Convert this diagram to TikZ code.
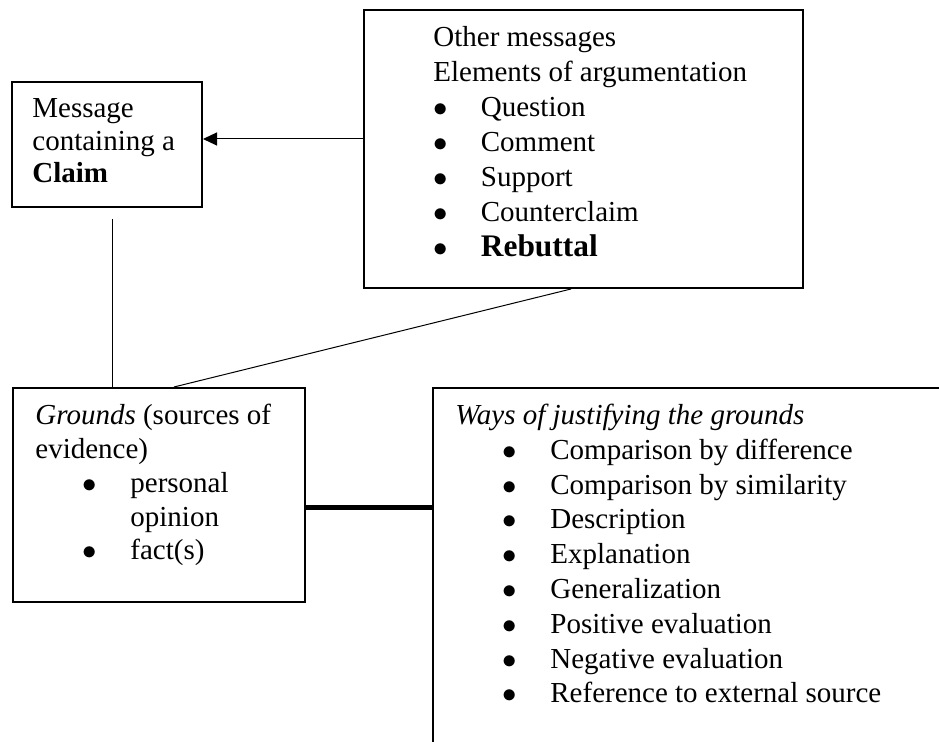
\documentclass[tikz,border=0pt]{standalone}
\usepackage{fontspec}
\setmainfont{Liberation Serif}
\usetikzlibrary{positioning,arrows.meta,calc}

\newcommand{\bul}{\makebox[23.75pt][l]{$\bullet$}}
\newcommand{\ind}{\hspace*{23.75pt}}

\begin{document}
\begin{tikzpicture}[x=0.5pt, y=-0.5pt,
  box/.style={draw, line width=1pt, anchor=north west, inner sep=0pt},
  txt/.style={anchor=base west, align=left, inner sep=0pt,
              font=\fontsize{14.5}{#1}\selectfont},
  txt/.default=17.25pt,
  link/.style={line width=0.5pt},
  heavy/.style={line width=2.5pt},
  arr/.style={-{Triangle[length=7pt, width=6.5pt]}, line width=0.5pt}]
\useasboundingbox (0,0) rectangle (939,742);
\clip (0,0) rectangle (939,742);
% boxes
\node[box, minimum width=95pt, minimum height=62.5pt] (claim) at (11,81) {};
\node[box, minimum width=219.5pt, minimum height=139pt] (other) at (363,9) {};
\node[box, minimum width=146pt, minimum height=107pt] (grounds) at (12,387) {};
\node[box, minimum width=300pt, minimum height=200pt] (ways) at (432,387) {};
% texts (anchored at the baseline of their last line)
\node[txt=16.25pt] (claimtxt) at (32,183) {Message\\containing a\\\textbf{Claim}};
\node[txt=17.5pt] (othertxt) at (433,257) {Other messages\\
  Elements of argumentation\\
  \bul Question\\
  \bul Comment\\
  \bul Support\\
  \bul Counterclaim\\
  {\fontsize{15.7}{19.5pt}\selectfont\bfseries\bul Rebuttal}};
\node[txt=16.9pt] (groundstxt) at (35,560) {\textit{Grounds} (sources of\\
  evidence)\\
  \ind\bul personal\\
  \ind\ind opinion\\
  \ind\bul fact(s)};
\node[txt=17.4pt] (waystxt) at (455,703) {\textit{Ways of justifying the grounds}\\
  \ind\bul Comparison by difference\\
  \ind\bul Comparison by similarity\\
  \ind\bul Description\\
  \ind\bul Explanation\\
  \ind\bul Generalization\\
  \ind\bul Positive evaluation\\
  \ind\bul Negative evaluation\\
  \ind\bul Reference to external source};
% connectors
\coordinate (arrend) at ([yshift=2.75pt]claim.east);
\draw[arr] (arrend -| other.west) -- (arrend);
\coordinate (vtop) at ([shift={(5,11)}]claim.south);
\draw[link] (vtop) -- (vtop |- grounds.north);
\draw[link] ([xshift=-6.25pt]other.south) -- ([xshift=7.5pt]grounds.north);
\coordinate (gw) at ([yshift=-6.5pt]grounds.east);
\draw[heavy] (gw) -- (gw -| ways.west);
\end{tikzpicture}
\end{document}
